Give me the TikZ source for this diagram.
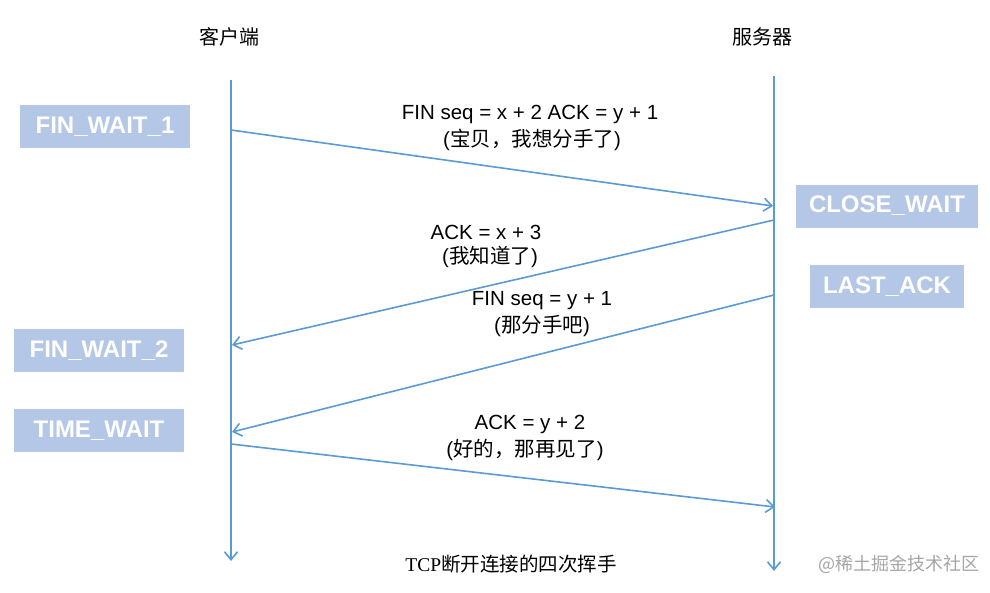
\documentclass[tikz,border=0pt]{standalone}
\usepackage{fontspec}
\setmainfont{Liberation Sans}
\newfontfamily\cjk{Noto Sans CJK SC}
\newfontfamily\serifm{Liberation Serif}
\usetikzlibrary{arrows.meta}
\definecolor{lineblue}{HTML}{5B9BD5}
\definecolor{boxblue}{HTML}{B4C7E7}
\definecolor{wmgray}{HTML}{A6A6A6}
\begin{document}
\begin{tikzpicture}[x=1pt,y=-1pt,
  statebox/.style={fill=boxblue, text=white, font=\fontsize{24}{28}\selectfont\bfseries, minimum height=43pt, inner sep=0pt},
  lifeline/.style={draw=lineblue, line width=1.6pt, -{Straight Barb[length=8pt,width=13pt,line width=1.6pt]}},
  msg/.style={draw=lineblue, line width=1.6pt, -{Straight Barb[length=8pt,width=13pt,line width=1.6pt]}},
  lbl/.style={font=\fontsize{20.5}{24}\selectfont, inner sep=0pt},
  title/.style={font=\fontsize{20}{24}\selectfont\cjk, inner sep=0pt}]
\useasboundingbox[fill=white] (0,0) rectangle (990,592);

% titles
\node[title] (client) at (229,37) {客户端};
\node[title] (server) at (762,37) {服务器};

% lifelines
\coordinate (cTop) at (231,80);
\coordinate (cBot) at (231,561);
\coordinate (sTop) at (774,76);
\coordinate (sBot) at (774,571);
\draw[lifeline] (cTop) -- (cBot);
\draw[lifeline] (sTop) -- (sBot);

% state boxes
\node[statebox, minimum width=170pt] (fw1) at (105,126.5) {FIN\_WAIT\_1};
\node[statebox, minimum width=182pt] (cw) at (887,206) {CLOSE\_WAIT};
\node[statebox, minimum width=154pt] (la) at (887,286.5) {LAST\_ACK};
\node[statebox, minimum width=170pt] (fw2) at (99,350.5) {FIN\_WAIT\_2};
\node[statebox, minimum width=170pt] (tw) at (99,430.5) {TIME\_WAIT};

% message endpoints
\coordinate (m1s) at (231,130);
\coordinate (m1e) at (773,206);
\coordinate (m2s) at (774,220);
\coordinate (m2e) at (232,345);
\coordinate (m3s) at (774,295);
\coordinate (m3e) at (232,432);
\coordinate (m4s) at (231,444);
\coordinate (m4e) at (775,507);

\draw[msg] (m1s) -- (m1e);
\draw[msg] (m2s) -- (m2e);
\draw[msg] (m3s) -- (m3e);
\draw[msg] (m4s) -- (m4e);

% labels
\node[lbl] (l1a) at (530,114) {FIN seq = x + 2 ACK = y + 1};
\node[lbl] (l1b) at (532,140) {({\cjk 宝贝，我想分手了})};
\node[lbl] (l2a) at (486,232) {ACK = x + 3};
\node[lbl] (l2b) at (490,257) {({\cjk 我知道了})};
\node[lbl] (l3a) at (542,301) {FIN seq = y + 1};
\node[lbl] (l3b) at (542,326) {({\cjk 那分手吧})};
\node[lbl] (l4a) at (530,424) {ACK = y + 2};
\node[lbl] (l4b) at (525,450) {({\cjk 好的，那再见了})};

% caption and watermark
\node[inner sep=0pt, font=\fontsize{19.5}{23}\selectfont] (cap) at (511,564) {{\serifm TCP}{\cjk 断开连接的四次挥手}};
\node[inner sep=0pt, text=wmgray, font=\fontsize{18}{22}\selectfont\cjk] (wm) at (899,564) {@稀土掘金技术社区};
\end{tikzpicture}
\end{document}
